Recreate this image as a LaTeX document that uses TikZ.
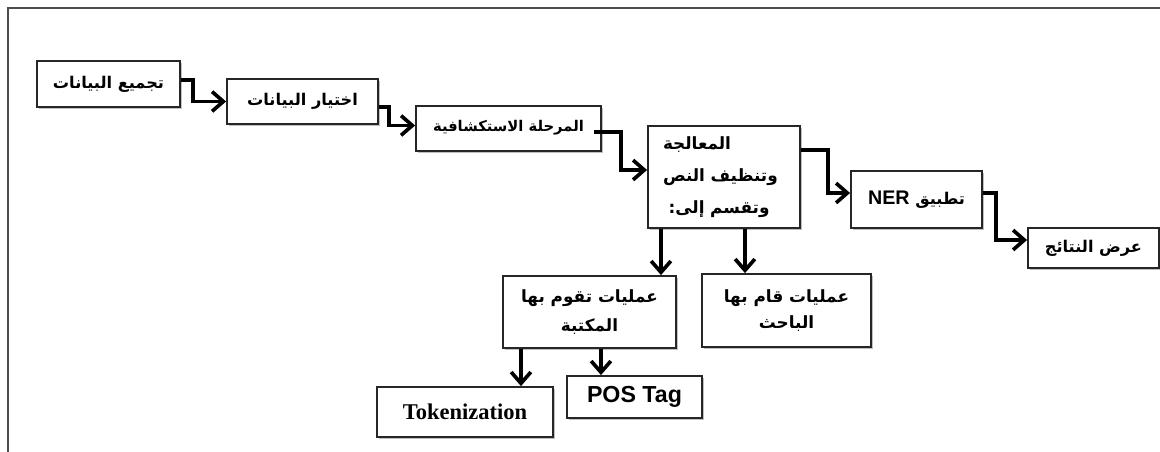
\documentclass[tikz,border=0pt]{standalone}
\usepackage{fontspec}
\setmainfont{Liberation Sans}
\newfontfamily\arabicfont[Script=Arabic]{DejaVu Sans}
\newfontfamily\serifbold{Liberation Serif}
\TeXXeTstate=1
\usetikzlibrary{arrows.meta,shadows}
\newcommand{\ar}[1]{\beginR #1\endR}
\tikzset{
  box/.style={draw=black!85, line width=1.3pt, fill=white, inner sep=0pt,
    drop shadow={shadow xshift=1.2pt, shadow yshift=-1.2pt, opacity=0.25, fill=black},
    font=\arabicfont\bfseries\fontsize{11.5}{14}\selectfont, align=center},
  conn/.style={line width=2.8pt, black, line join=miter,
    -{Straight Barb[length=8pt,width=14pt,line width=2.6pt]}},
  frame/.style={draw=black!70, line width=1.2pt}
}
\begin{document}
\begin{tikzpicture}[x=0.025cm,y=-0.025cm]
\useasboundingbox (0,0) rectangle (1160,452);
\draw[frame] (1165,8) -- (8,8) -- (8,460);

\node[box, minimum width=143*0.025cm, minimum height=46*0.025cm] (A) at (108.5,84) {\ar{تجميع البيانات}};
\node[box, minimum width=151*0.025cm, minimum height=45*0.025cm] (B) at (302.5,101.5) {\ar{اختيار البيانات}};
\node[box, minimum width=185*0.025cm, minimum height=45*0.025cm,
  font=\arabicfont\bfseries\fontsize{10.5}{13}\selectfont] (C) at (508.5,128.5) {\raisebox{3pt}{\ar{المرحلة الاستكشافية}}};
\node[box, minimum width=152*0.025cm, minimum height=102*0.025cm, text width=122*0.025cm, align=left,
  font=\arabicfont\bfseries\fontsize{12}{23}\selectfont] (D) at (724,177)
  {\ar{المعالجة}\\\ar{وتنظيف النص}\\\ \ar{وتقسم إلى:}};
\node[box, minimum width=131*0.025cm, minimum height=57*0.025cm] (E) at (916.5,199.5) {\ar{تطبيق \beginL{\fontspec{Liberation Sans}\bfseries\fontsize{14}{16}\selectfont NER}\endL}};
\node[box, minimum width=131*0.025cm, minimum height=40*0.025cm] (F) at (1093.5,248) {\ar{عرض النتائج}};
\node[box, minimum width=173*0.025cm, minimum height=72*0.025cm,
  font=\arabicfont\bfseries\fontsize{12}{21}\selectfont] (G) at (589.5,312) {\ar{عمليات تقوم بها}\\\ar{المكتبة}};
\node[box, minimum width=169*0.025cm, minimum height=73*0.025cm,
  font=\arabicfont\bfseries\fontsize{12}{19}\selectfont] (H) at (786.5,310.5) {\ar{عمليات قام بها}\\\ar{الباحث}};
\node[box, minimum width=176*0.025cm, minimum height=50*0.025cm,
  font=\serifbold\bfseries\fontsize{16}{18}\selectfont] (T) at (465,412) {Tokenization};
\node[box, minimum width=135*0.025cm, minimum height=42*0.025cm,
  font=\bfseries\fontsize{16.5}{18}\selectfont] (P) at (634.5,397) {POS Tag};

\draw[conn] ([shift={(0,-4)}]A.east) -- ++(12,0) |- (B.west);
\draw[conn] ([shift={(0,5.5)}]B.east) -- ++(10,0) |- ([shift={(0,-3)}]C.west);
\draw[conn] ([shift={(-8,3.5)}]C.east) -- ++(27,0) |- ([shift={(0,-7)}]D.west);
\draw[conn] ([shift={(0,-27)}]D.east) -- ++(27,0) |- ([shift={(0,-6.5)}]E.west);
\draw[conn] ([shift={(0,-6.5)}]E.east) -- ++(13,0) |- ([shift={(0,-8)}]F.west);
\draw[conn] ([shift={(-63,0)}]D.south) -- ([shift={(-63,0)}]D.south |- G.north);
\draw[conn] ([shift={(21,0)}]D.south) -- ([shift={(21,0)}]D.south |- H.north);
\draw[conn] ([shift={(-68.5,0)}]G.south) -- ([shift={(-68.5,0)}]G.south |- T.north);
\draw[conn] ([shift={(11.5,0)}]G.south) -- ([shift={(11.5,0)}]G.south |- P.north);
\end{tikzpicture}
\end{document}
